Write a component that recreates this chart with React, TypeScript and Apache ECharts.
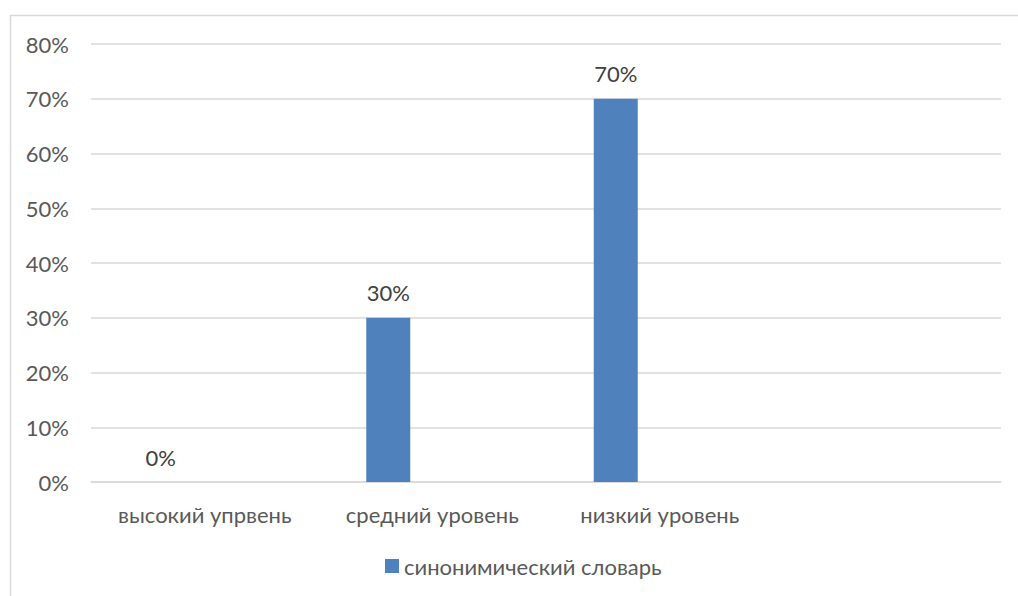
import React, { useEffect, useRef } from "react";
import * as echarts from "echarts";

const categories = ["высокий упрвень", "средний уровень", "низкий уровень", ""];
const seriesName = "синонимический словарь";
const values: (number | null)[] = [0, 30, 70, null];
const emptyA: (number | null)[] = [null, null, null, null];
const emptyB: (number | null)[] = [null, null, null, null];
const yTicks = [0, 10, 20, 30, 40, 50, 60, 70, 80];

const FONT = "Lato, 'Open Sans', sans-serif";
const TEXT = "#595959";
const FS = 22;

export default function App() {
  const ref = useRef<HTMLDivElement>(null);
  useEffect(() => {
    if (!ref.current) return;
    const chart = echarts.init(ref.current, undefined, { renderer: "svg" });
    chart.setOption({
      animation: false,
      backgroundColor: "#ffffff",
      textStyle: { fontFamily: FONT, color: TEXT },
      graphic: [
        {
          type: "rect",
          shape: { x: 10.5, y: 15.5, width: 1100, height: 700 },
          style: { fill: "none", stroke: "#d9d9d9", lineWidth: 1.5 },
          silent: true,
        },
      ],
      grid: { left: 91, right: 17, top: 44, bottom: 114, containLabel: false },
      legend: {
        data: [seriesName],
        left: 380,
        top: 550,
        icon: "rect",
        itemWidth: 14,
        itemHeight: 14,
        itemGap: 6,
        textStyle: { fontFamily: FONT, color: TEXT, fontSize: FS },
      },
      xAxis: {
        type: "category",
        data: categories,
        axisLine: { show: true, lineStyle: { color: "#d9d9d9", width: 1.5 } },
        axisTick: { show: false },
        axisLabel: { color: TEXT, fontSize: FS, fontFamily: FONT, margin: 21, interval: 0 },
      },
      yAxis: {
        type: "value",
        min: yTicks[0],
        max: yTicks[yTicks.length - 1],
        interval: 10,
        axisLine: { show: false },
        axisTick: { show: false },
        splitLine: { lineStyle: { color: "#d9d9d9", width: 1.5 } },
        axisLabel: { color: TEXT, fontSize: FS, fontFamily: FONT, margin: 22, formatter: "{value}%" },
      },
      series: [
        {
          name: seriesName,
          type: "bar",
          data: values,
          barWidth: 44,
          barGap: "0%",
          itemStyle: { color: "#4f81bd" },
          label: {
            show: true,
            position: "top",
            distance: 14,
            color: "#404040",
            fontSize: FS,
            fontFamily: FONT,
            formatter: "{c}%",
          },
        },
        { name: "s2", type: "bar", data: emptyA, barWidth: 44, barGap: "0%" },
        { name: "s3", type: "bar", data: emptyB, barWidth: 44, barGap: "0%" },
      ],
    });
    return () => chart.dispose();
  }, []);
  return (
    <div
      ref={ref}
      style={{ position: "fixed", left: 0, top: 0, width: 1018, height: 596 }}
    />
  );
}
